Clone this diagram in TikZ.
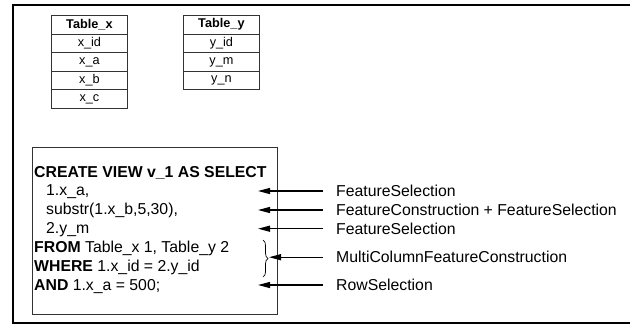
\documentclass[tikz,border=0pt]{standalone}
\usepackage{fontspec}
\setmainfont{Liberation Sans}
\usetikzlibrary{arrows.meta,decorations.pathreplacing}
\begin{document}
\begin{tikzpicture}[x=1pt,y=-1pt,
  cell/.style={draw=black!80,line width=0.8pt,minimum width=76pt,minimum height=18.6pt,inner sep=0pt,anchor=north west,font=\fontsize{12.7}{14}\selectfont},
  code/.style={anchor=base west,inner sep=0pt,font=\fontsize{15.8}{18}\selectfont},
  lab/.style={anchor=base west,inner sep=0pt,font=\fontsize{15.8}{18}\selectfont},
  arr/.style={line width=1.3pt,-{Triangle[length=12pt,width=6pt]}}]
\useasboundingbox (0,0) rectangle (630,325);
% frame
\draw[line width=2.5pt] (630,5) -- (13,5) -- (13,323);
\draw[line width=1.5pt] (12,323) -- (630,323);
% Table_x
\node[cell] (tx0) at (51,15) {\textbf{Table\_x}};
\node[cell] (tx1) at (51,33.6) {x\_id};
\node[cell] (tx2) at (51,52.2) {x\_a};
\node[cell] (tx3) at (51,70.8) {x\_b};
\node[cell] (tx4) at (51,89.4) {x\_c};
% Table_y
\node[cell] (ty0) at (183,15) {\textbf{Table\_y}};
\node[cell] (ty1) at (183,33.6) {y\_id};
\node[cell] (ty2) at (183,52.2) {y\_m};
\node[cell] (ty3) at (183,70.8) {y\_n};
% code box
\node[draw=black!80,line width=0.8pt,anchor=north west,minimum width=245pt,minimum height=167pt,inner sep=0pt] (box) at (32,147) {};
\node[code] (c1) at (34,177) {\textbf{CREATE VIEW v\_1 AS SELECT}};
\node[code] (c2) at (46,195.8) {1.x\_a,};
\node[code] (c3) at (46,214.7) {substr(1.x\_b,5,30),};
\node[code] (c4) at (46,233.5) {2.y\_m};
\node[code] (c5) at (34,252.3) {\textbf{FROM} Table\_x 1, Table\_y 2};
\node[code] (c6) at (34,271.2) {\textbf{WHERE} 1.x\_id = 2.y\_id};
\node[code] (c7) at (34,290) {\textbf{AND} 1.x\_a = 500;};
% labels
\node[lab] (l1) at (336,196.5) {FeatureSelection};
\node[lab] (l2) at (336,215.5) {FeatureConstruction + FeatureSelection};
\node[lab] (l3) at (336,234) {FeatureSelection};
\node[lab] (l4) at (336,262.5) {MultiColumnFeatureConstruction};
\node[lab] (l5) at (336,290.5) {RowSelection};
% arrow endpoints
\coordinate (s1) at (323,191);
\coordinate (e1) at (258,191);
\coordinate (s2) at (323,210);
\coordinate (e2) at (258,210);
\coordinate (s3) at (323,228.7);
\coordinate (e3) at (258,228.7);
\coordinate (s4) at (323,257.2);
\coordinate (e4) at (269,257.2);
\coordinate (s5) at (323,285);
\coordinate (e5) at (258,285);
\draw[arr] (s1) -- (e1);
\draw[arr] (s2) -- (e2);
\draw[arr] (s3) -- (e3);
\draw[arr] (s4) -- (e4);
\draw[arr] (s5) -- (e5);
% brace
\coordinate (bt) at (263,240);
\coordinate (bb) at (263,277);
\draw[line width=0.7pt,decorate,decoration={brace,amplitude=5pt}] (bt) -- (bb);
\end{tikzpicture}
\end{document}
